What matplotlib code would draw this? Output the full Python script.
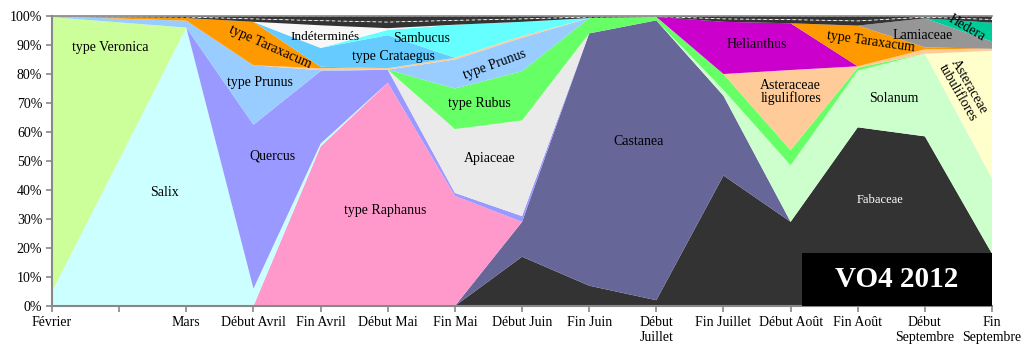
import numpy as np
import matplotlib
matplotlib.use('Agg')
import matplotlib.pyplot as plt
from matplotlib.patches import Rectangle

plt.rcParams['font.family'] = ['Liberation Serif', 'DejaVu Serif']

# categories (index 1 is an unlabeled slot without data)
tick_labels = ['Février', '', 'Mars', 'Début Avril', 'Fin Avril', 'Début Mai', 'Fin Mai',
               'Début Juin', 'Fin Juin', 'Début\nJuillet', 'Fin Juillet', 'Début Août',
               'Fin Août', 'Début\nSeptembre', 'Fin\nSeptembre']
x_pos = [0, 2, 3, 4, 5, 6, 7, 8, 9, 10, 11, 12, 13, 14]

#            Fév  Mars DAvr FAvr DMai FMai DJuin FJuin DJuil FJuil DAoût FAoût DSep FSep
fabaceae    = [0, 0, 0, 0, 0, 0, 17, 7, 2, 45, 29, 61.5, 58.5, 18]
castanea    = [0, 0, 0, 0, 0, 0, 12, 87, 96.5, 27.5, 0, 0, 0, 0]
raphanus    = [0, 0, 0, 55, 77, 38, 0, 0, 0, 0, 0, 0, 0, 0]
salix       = [5, 96, 6, 1, 0, 0, 0, 0, 0, 0, 0, 0, 0, 0]
veronica    = [94.6, 0, 0, 0, 0, 0, 0, 0, 0, 0, 0, 0, 0, 0]
quercus     = [0, 0, 56.5, 25, 4.5, 1, 2, 0, 0, 0, 0, 0, 0, 0]
apiaceae    = [0, 0, 0, 0, 0, 22, 33, 0, 0, 0, 0, 0, 0, 0]
solanum     = [0, 0, 0, 0, 0, 0, 0, 0, 0, 2, 19.5, 19.5, 28.5, 26]
rubus       = [0, 0, 0, 0, 0, 14, 17, 5.3, 1.2, 5.5, 5.2, 1, 0, 0]
prunus      = [0.2, 2.4, 20.5, 0.3, 0, 10, 11.5, 0, 0, 0, 0, 0, 0, 0]
ast_tub     = [0, 0, 0, 0, 0, 0, 0, 0, 0, 0, 0, 0, 0, 44]
ast_lig     = [0, 0, 0, 0.7, 0.5, 0.6, 0.6, 0, 0, 0, 27.6, 0.5, 1.5, 0.7]
helianthus  = [0, 0, 0, 0, 0, 0, 0, 0, 0, 18, 16.1, 0, 0, 0]
taraxacum   = [0.1, 0.9, 15, 0.5, 0, 0, 0, 0, 0, 0, 0, 14, 0.7, 0]
crataegus   = [0, 0, 0, 6.5, 11.4, 0, 0, 0, 0, 0, 0, 0, 0, 0]
sambucus    = [0, 0, 0, 0, 1.8, 11.4, 4.9, 0, 0, 0, 0, 0, 0, 0]
indetermines = [0, 0, 0, 7.8, 0.6, 0, 0, 0, 0, 0, 0, 0, 0, 0]
lamiaceae   = [0, 0, 0, 0, 0, 0, 0, 0, 0, 0, 0, 0, 10, 2.5]
hedera      = [0, 0, 0, 0, 0, 0, 0, 0, 0, 0, 0, 0, 0, 6.5]
autres_1    = [0.05, 0.35, 1, 1.6, 2.1, 1.5, 1, 0.35, 0.15, 1, 1.25, 1.6, 0.4, 1.1]
autres_2    = [0.05, 0.35, 1, 1.6, 2.1, 1.5, 1, 0.35, 0.15, 1, 1.25, 1.7, 0.4, 1.2]

series = [fabaceae, castanea, raphanus, salix, veronica, quercus, apiaceae, solanum,
          rubus, prunus, ast_tub, ast_lig, helianthus, taraxacum, crataegus, sambucus,
          indetermines, lamiaceae, hedera, autres_1, autres_2]
colors = ['#333333', '#666699', '#ff99cc', '#ccffff', '#ccff99', '#9999ff', '#eaeaea', '#ccffcc',
          '#66ff66', '#99ccff', '#ffffcc', '#ffcc99', '#cc00cc', '#ff9900', '#66ccff', '#66ffff',
          '#f8f8f8', '#969696', '#00cc99', '#333333', '#333333']

data = np.array(series, dtype=float)
pct = data / data.sum(axis=0) * 100  # 100% stacked

fig = plt.figure(figsize=(10.24, 3.48), dpi=100)
ax = fig.add_axes([0.0508, 0.1207, 0.918, 0.8333])

polys = ax.stackplot(x_pos, pct, colors=colors, linewidth=0)
# dashed white separation inside the dark top band
polys[-1].set_edgecolor('white')
polys[-1].set_linestyle((0, (4, 3)))
polys[-1].set_linewidth(0.6)

ax.set_xlim(0, 14)
ax.set_ylim(0, 100)
ax.set_xticks(range(15))
ax.set_xticklabels(tick_labels, fontsize=10)
ax.set_yticks(range(0, 101, 10))
ax.set_yticklabels([f'{v}%' for v in range(0, 101, 10)], fontsize=10)
for s in ['top', 'right']:
    ax.spines[s].set_visible(False)
for s in ['left', 'bottom']:
    ax.spines[s].set_color('#888888')
    ax.spines[s].set_linewidth(1.5)
ax.tick_params(axis='both', color='#888888', width=1.2, length=4, pad=3)
ax.axhline(100, color='#888888', linewidth=1.2, clip_on=False)

labels = [
    ('type Veronica', 0.86, 89, 0, 'black', 10),
    ('Salix', 1.68, 39.3, 0, 'black', 10),
    ('type Taraxacum', 3.25, 89.3, -24, 'black', 10),
    ('Indéterminés', 4.07, 92.8, 0, 'black', 9.5),
    ('Sambucus', 5.51, 92.4, 0, 'black', 10),
    ('type Crataegus', 5.08, 85.9, 0, 'black', 10),
    ('type Prunus', 3.1, 77.2, 0, 'black', 10),
    ('type Prunus', 6.6, 83.1, 20, 'black', 10),
    ('type Rubus', 6.37, 69.7, 0, 'black', 10),
    ('Quercus', 3.29, 51.7, 0, 'black', 10),
    ('Apiaceae', 6.52, 51, 0, 'black', 10),
    ('Castanea', 8.73, 56.6, 0, 'black', 10),
    ('type Raphanus', 4.96, 32.8, 0, 'black', 10),
    ('Helianthus', 10.5, 90.3, 0, 'black', 10),
    ('type Taraxacum', 12.2, 91, -8, 'black', 10),
    ('Lamiaceae', 12.97, 93.4, 0, 'black', 10),
    ('Hedera', 13.63, 95.9, -30, 'black', 10),
    ('Asteraceae\nliguliflores', 11.0, 73.8, 0, 'black', 10),
    ('Solanum', 12.53, 71.7, 0, 'black', 10),
    ('Asteraceae\ntubuliflores', 13.57, 74.5, -60, 'black', 10),
    ('Fabaceae', 12.33, 36.6, 0, 'white', 9),
]
for txt, lx, ly, rot, col, fs in labels:
    ax.text(lx, ly, txt, ha='center', va='center', rotation=rot, color=col,
            fontsize=fs, linespacing=1.0)

ax.add_patch(Rectangle((0.798, 0.0), 0.202, 0.183, transform=ax.transAxes,
                       facecolor='black', edgecolor='none', zorder=5))
ax.text(0.899, 0.0915, 'VO4 2012', transform=ax.transAxes, ha='center', va='center',
        color='white', fontsize=21, fontweight='bold', zorder=6)

fig.savefig('out.png', dpi=100)
